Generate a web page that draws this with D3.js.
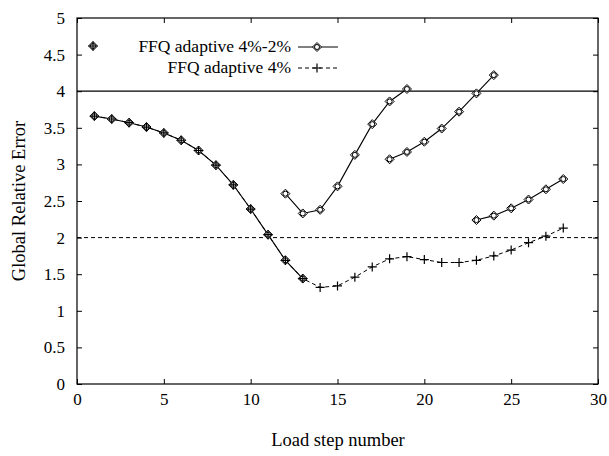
<!DOCTYPE html>
<html>

<head>
  <title>Global Relative Error</title>
  <style>
    body { margin: 0; background: #fff; }
    text { font-family: "Liberation Serif", "DejaVu Serif", serif; }
  </style>
</head>

<body>
  <svg id="svg"></svg>

  <script src="https://d3js.org/d3.v7.min.js"></script>
  <script>
    // FFQ adaptive 4%-2% : several restarted pieces
    let steps1a = [1, 2, 3, 4, 5, 6, 7, 8, 9, 10, 11, 12, 13];
    let err1a = [3.66, 3.62, 3.57, 3.51, 3.43, 3.33, 3.19, 2.99, 2.72, 2.39, 2.04, 1.69, 1.44];
    let steps1b = [12, 13, 14, 15, 16, 17, 18, 19];
    let err1b = [2.60, 2.33, 2.38, 2.70, 3.13, 3.55, 3.86, 4.03];
    let steps1c = [18, 19, 20, 21, 22, 23, 24];
    let err1c = [3.07, 3.17, 3.31, 3.49, 3.72, 3.97, 4.22];
    let steps1d = [23, 24, 25, 26, 27, 28];
    let err1d = [2.24, 2.30, 2.40, 2.52, 2.66, 2.80];

    // FFQ adaptive 4%
    let steps2 = [1, 2, 3, 4, 5, 6, 7, 8, 9, 10, 11, 12, 13, 14, 15, 16, 17, 18, 19, 20, 21, 22, 23, 24, 25, 26, 27, 28];
    let err2 = [3.66, 3.62, 3.57, 3.51, 3.43, 3.33, 3.19, 2.99, 2.72, 2.39, 2.04, 1.69, 1.44,
      1.32, 1.34, 1.46, 1.60, 1.71, 1.74, 1.70, 1.66, 1.66, 1.69, 1.75, 1.83, 1.93, 2.02, 2.13];

    let limit1 = 4; // solid reference line
    let limit2 = 2; // dashed reference line

    let xTicks = [0, 5, 10, 15, 20, 25, 30];
    let yTicks = [0, 0.5, 1, 1.5, 2, 2.5, 3, 3.5, 4, 4.5, 5];

    let width = 521, height = 366;
    let margin = { top: 18, right: 11, bottom: 72, left: 77 };

    let svg = d3.select("#svg")
      .attr("width", 609)
      .attr("height", 456);

    let xScale = d3.scaleLinear().domain([0, 30]).range([0, width]);
    let yScale = d3.scaleLinear().domain([0, 5]).range([height, 0]);

    let g = svg.append("g").attr("transform", `translate(${margin.left}, ${margin.top})`);

    // axes, ticks inward, mirrored on top and right
    g.append("g")
      .attr("transform", `translate(0, ${height})`)
      .call(d3.axisBottom(xScale).tickValues(xTicks).tickFormat(d => d).tickSize(-5).tickSizeOuter(0).tickPadding(9));
    g.append("g")
      .call(d3.axisTop(xScale).tickValues(xTicks).tickSize(-5).tickSizeOuter(0).tickFormat(""));
    g.append("g")
      .call(d3.axisLeft(yScale).tickValues(yTicks).tickFormat(d => d).tickSize(-5).tickSizeOuter(0).tickPadding(12));
    g.append("g")
      .attr("transform", `translate(${width}, 0)`)
      .call(d3.axisRight(yScale).tickValues(yTicks).tickSize(-5).tickSizeOuter(0).tickFormat(""));

    g.selectAll(".domain").remove();
    g.selectAll(".tick line").attr("stroke", "#000");
    g.selectAll(".tick text").attr("fill", "#000").attr("font-size", 17)
      .attr("font-family", "'Liberation Serif', serif");

    g.append("rect")
      .attr("width", width).attr("height", height)
      .attr("fill", "none").attr("stroke", "#000").attr("stroke-width", 1.2);

    // reference lines
    g.append("line")
      .attr("x1", 0).attr("x2", width)
      .attr("y1", yScale(limit1)).attr("y2", yScale(limit1))
      .attr("stroke", "#000").attr("stroke-width", 1.2);
    g.append("line")
      .attr("x1", 0).attr("x2", width)
      .attr("y1", yScale(limit2)).attr("y2", yScale(limit2))
      .attr("stroke", "#000").attr("stroke-width", 1).attr("stroke-dasharray", "4,3");

    let line = d3.line().x(d => xScale(d[0])).y(d => yScale(d[1]));

    function drawPlus(sel) {
      sel.append("path")
        .attr("d", "M-4.5,0H4.5M0,-4.5V4.5")
        .attr("stroke", "#000").attr("stroke-width", 1.2).attr("fill", "none");
    }
    function drawDiamond(sel) {
      sel.append("path")
        .attr("d", "M0,-4.5L4.5,0L0,4.5L-4.5,0Z")
        .attr("stroke", "#000").attr("stroke-width", 1).attr("fill", "#fff");
      sel.append("circle")
        .attr("r", 2.5)
        .attr("stroke", "#000").attr("stroke-width", 1).attr("fill", "none");
    }

    // series 2 (dashed, plus)
    let pts2 = d3.zip(steps2, err2);
    g.append("path")
      .datum(pts2)
      .attr("d", line)
      .attr("fill", "none").attr("stroke", "#000").attr("stroke-width", 1)
      .attr("stroke-dasharray", "4,3");

    // series 1 pieces (solid, diamond)
    let pieces = [d3.zip(steps1a, err1a), d3.zip(steps1b, err1b), d3.zip(steps1c, err1c), d3.zip(steps1d, err1d)];
    pieces.forEach(p => {
      g.append("path")
        .datum(p)
        .attr("d", line)
        .attr("fill", "none").attr("stroke", "#000").attr("stroke-width", 1.1);
    });

    pieces.forEach(p => {
      g.append("g").selectAll("g")
        .data(p)
        .join("g")
        .attr("transform", d => `translate(${xScale(d[0])}, ${yScale(d[1])})`)
        .call(drawDiamond);
    });

    g.append("g").selectAll("g")
      .data(pts2)
      .join("g")
      .attr("transform", d => `translate(${xScale(d[0])}, ${yScale(d[1])})`)
      .call(drawPlus);

    // legend
    let legend = svg.append("g");
    legend.append("g").attr("transform", "translate(93, 46)").call(drawDiamond);
    legend.append("g").attr("transform", "translate(93, 46)").call(drawPlus);

    legend.append("text")
      .attr("x", 291).attr("y", 52)
      .attr("text-anchor", "end").attr("font-size", 17.5)
      .text("FFQ adaptive 4%-2%");
    legend.append("line")
      .attr("x1", 298).attr("x2", 338).attr("y1", 47).attr("y2", 47)
      .attr("stroke", "#000").attr("stroke-width", 1);
    legend.append("g").attr("transform", "translate(317, 47)").call(drawDiamond);

    legend.append("text")
      .attr("x", 291).attr("y", 73)
      .attr("text-anchor", "end").attr("font-size", 17.5)
      .text("FFQ adaptive 4%");
    legend.append("line")
      .attr("x1", 298).attr("x2", 338).attr("y1", 68).attr("y2", 68)
      .attr("stroke", "#000").attr("stroke-width", 1).attr("stroke-dasharray", "4,3");
    legend.append("g").attr("transform", "translate(317, 68)").call(drawPlus);

    // axis titles
    svg.append("text")
      .attr("x", 338).attr("y", 446)
      .attr("text-anchor", "middle").attr("font-size", 18.5)
      .text("Load step number");
    svg.append("text")
      .attr("transform", "translate(25, 201) rotate(-90)")
      .attr("text-anchor", "middle").attr("font-size", 18.5)
      .text("Global Relative Error");
  </script>
</body>

</html>
